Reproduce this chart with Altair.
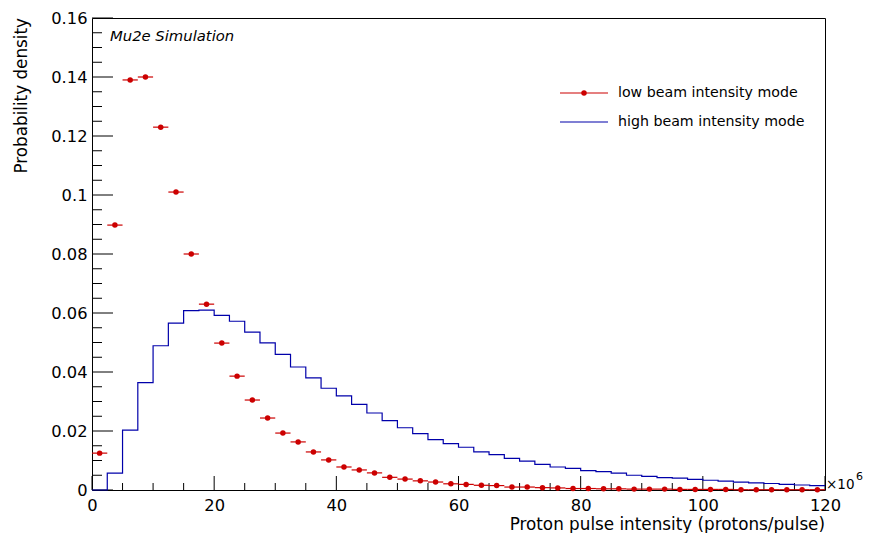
import altair as alt
import pandas as pd

# Histogram binning: 48 bins of width 2.5 (x10^6 protons/pulse) over 0-120
BIN_WIDTH = 2.5
N_BINS = 48

# Probability density per bin, low beam intensity mode (points)
low_mode = [0.0125, 0.0898, 0.139, 0.140, 0.123, 0.101, 0.080, 0.063, 0.0498, 0.0386,
            0.0305, 0.0244, 0.0193, 0.0163, 0.0129, 0.0102, 0.0078, 0.0068, 0.0058, 0.0043,
            0.0037, 0.0031, 0.0027, 0.0021, 0.0019, 0.0016, 0.0015, 0.0010, 0.0010, 0.0008,
            0.0007, 0.0005, 0.0005, 0.0004, 0.0004, 0.0003, 0.0003, 0.0003, 0.0002, 0.0002,
            0.0002, 0.0002, 0.0001, 0.0001, 0.0001, 0.0001, 0.0001, 0.0001]

# Probability density per bin, high beam intensity mode (step histogram)
high_mode = [0.0, 0.0057, 0.0203, 0.0364, 0.0489, 0.0566, 0.0608, 0.0610, 0.0592, 0.0572,
             0.0535, 0.0499, 0.0460, 0.0417, 0.0380, 0.0345, 0.0319, 0.0290, 0.0261, 0.0235,
             0.0211, 0.0191, 0.0171, 0.0157, 0.0145, 0.0129, 0.0120, 0.0107, 0.0098, 0.0087,
             0.0078, 0.0073, 0.0066, 0.0062, 0.0057, 0.0050, 0.0046, 0.0042, 0.0040, 0.0036,
             0.0033, 0.0030, 0.0027, 0.0024, 0.0022, 0.0019, 0.0017, 0.0015]

# Axis ticks
x_major = [0, 20, 40, 60, 80, 100, 120]
x_minor = [5, 10, 15, 25, 30, 35, 45, 50, 55, 65, 70, 75, 85, 90, 95, 105, 110, 115]
y_major = [0.0, 0.02, 0.04, 0.06, 0.08, 0.10, 0.12, 0.14, 0.16]
y_minor = [0.005, 0.01, 0.015, 0.025, 0.03, 0.035, 0.045, 0.05, 0.055, 0.065, 0.07, 0.075,
           0.085, 0.09, 0.095, 0.105, 0.11, 0.115, 0.125, 0.13, 0.135, 0.145, 0.15, 0.155]

W, H = 733, 472
FONT = "DejaVu Sans"
RED = "#cc0000"
BLUE = "#0000aa"

lo_edges = [i * BIN_WIDTH for i in range(N_BINS)]
low_df = pd.DataFrame({
    "lo": lo_edges,
    "hi": [e + BIN_WIDTH for e in lo_edges],
    "mid": [e + BIN_WIDTH / 2 for e in lo_edges],
    "p": low_mode,
})
high_df = pd.DataFrame({
    "edge": lo_edges + [N_BINS * BIN_WIDTH],
    "p": high_mode + [high_mode[-1]],
})

xs = alt.Scale(domain=[0, 120], nice=False, zero=False)
ys = alt.Scale(domain=[0, 0.16], nice=False, zero=False)
x_axis = alt.Axis(values=x_major, title=None, ticks=False, domain=False, grid=False,
                  labelFlush=False, labelOverlap=False,
                  labelFont=FONT, labelFontSize=16.3, labelColor="black", labelPadding=7)
y_axis = alt.Axis(values=y_major, title=None, ticks=False, domain=False, grid=False,
                  labelFlush=False, labelOverlap=False,
                  format="~g", labelFont=FONT, labelFontSize=16.3, labelColor="black",
                  labelPadding=5)

# High mode outline
high_line = alt.Chart(high_df).mark_line(
    interpolate="step-after", color=BLUE, strokeWidth=1.2
).encode(
    x=alt.X("edge:Q", scale=xs, axis=x_axis),
    y=alt.Y("p:Q", scale=ys, axis=y_axis),
)

# Low mode: horizontal bin-width bars and markers
low_bars = alt.Chart(low_df).mark_rule(color=RED, strokeWidth=1.2).encode(
    x=alt.X("lo:Q", scale=xs, axis=x_axis),
    x2="hi:Q",
    y=alt.Y("p:Q", scale=ys, axis=y_axis),
)
low_pts = alt.Chart(low_df).mark_circle(color=RED, size=30, opacity=1).encode(
    x=alt.X("mid:Q", scale=xs, axis=x_axis),
    y=alt.Y("p:Q", scale=ys, axis=y_axis),
)

# Inward-pointing ticks along the bottom and left edges of the frame
def x_ticks(vals, length):
    return alt.Chart(pd.DataFrame({"t": vals})).mark_rule(color="black", strokeWidth=1).encode(
        x=alt.X("t:Q", scale=xs, axis=x_axis), y=alt.value(H), y2=alt.value(H - length))

def y_ticks(vals, length):
    return alt.Chart(pd.DataFrame({"t": vals})).mark_rule(color="black", strokeWidth=1).encode(
        y=alt.Y("t:Q", scale=ys, axis=y_axis), x=alt.value(0), x2=alt.value(length))

def label(text, x, y, size=16, align="left", angle=0, italic=False, baseline="middle"):
    return alt.Chart(pd.DataFrame({"s": [text]})).mark_text(
        font=FONT, fontSize=size, align=align, baseline=baseline, angle=angle,
        fontStyle="italic" if italic else "normal", color="black"
    ).encode(text="s:N", x=alt.value(x), y=alt.value(y))

# Legend
legend_red_line = alt.Chart(pd.DataFrame({"k": [0]})).mark_rule(color=RED, strokeWidth=1.2).encode(
    x=alt.value(468), x2=alt.value(516), y=alt.value(75))
legend_red_dot = alt.Chart(pd.DataFrame({"k": [0]})).mark_circle(color=RED, size=30, opacity=1).encode(
    x=alt.value(492), y=alt.value(75))
legend_blue_line = alt.Chart(pd.DataFrame({"k": [0]})).mark_rule(color=BLUE, strokeWidth=1.2).encode(
    x=alt.value(468), x2=alt.value(516), y=alt.value(104))

chart = alt.layer(
    x_ticks(x_major, 14), x_ticks(x_minor, 7),
    y_ticks(y_major, 21), y_ticks(y_minor, 10),
    high_line, low_bars, low_pts,
    legend_red_line, legend_red_dot, legend_blue_line,
    label("low beam intensity mode", 526, 75, size=14.2),
    label("high beam intensity mode", 526, 104, size=14.2),
    label("Mu2e Simulation", 18, 19, size=14.8, italic=True),
    label("Probability density", -70, 0, size=16.8, align="right", angle=270),
    label("Proton pulse intensity (protons/pulse)", W, 507, size=16.8, align="right"),
    label("\u00d710", 734, 467, size=13.5),
    label("6", 764, 459, size=11),
).properties(
    width=W, height=H,
    autosize=alt.AutoSizeParams(type="none"),
    padding={"left": 92, "top": 18, "right": 45, "bottom": 43},
    background="white",
).configure_view(stroke="black", strokeWidth=1)

chart.save("out.html", embed_options={"renderer": "svg", "actions": False})
